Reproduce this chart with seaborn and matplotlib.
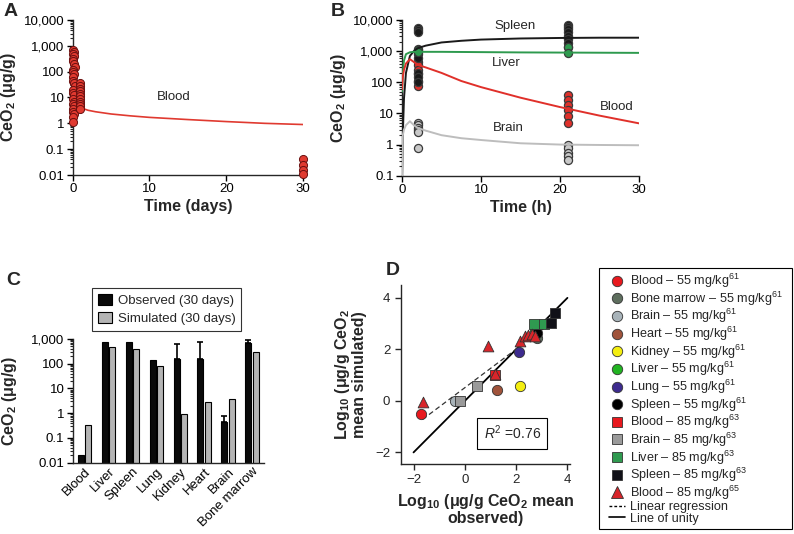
import numpy as np
import pandas as pd
import matplotlib
matplotlib.use('Agg')
import matplotlib.pyplot as plt
import seaborn as sns
from matplotlib.lines import Line2D
from matplotlib.patches import Rectangle
from matplotlib.ticker import FixedLocator, LogLocator, NullFormatter, FixedFormatter

# ---------------- Panel A data (time in days) ----------------
a_curve_t = [0, 0.1, 0.25, 0.5, 0.75, 1.0, 1.5, 2, 3, 5, 7.5, 10, 15, 20, 25, 30]
a_curve_v = [800, 200, 60, 15, 7, 4.2, 3.6, 3.2, 2.8, 2.3, 1.95, 1.7, 1.4, 1.17, 1.0, 0.9]
a_obs_t = [0.05, 0.15, 0.05, 0.2, 0.1, 0.05, 0.15, 0.25, 0.1, 0.05, 0.2, 0.1, 0.05, 0.15,
           0.25, 0.1, 0.05, 0.2, 0.1, 0.15, 0.05, 0.2, 0.1, 0.05, 0.15, 0.1, 0.05,
           1.0, 1.0, 1.0, 1.0, 1.0, 1.0, 1.0, 1.0, 1.0, 1.0, 1.0,
           30, 30, 30, 30]
a_obs_v = [700, 600, 500, 400, 300, 250, 200, 150, 120, 100, 80, 60, 45, 35,
           28, 20, 15, 12, 9, 7, 5.5, 4.5, 3.5, 2.8, 2.2, 1.8, 1.1,
           35, 28, 22, 18, 14, 11, 9, 7, 5.5, 4.5, 3.5,
           0.04, 0.025, 0.016, 0.011]

# ---------------- Panel B data (time in hours) ----------------
b_t = [0, 0.1, 0.25, 0.5, 1, 1.5, 2, 3, 5, 7.5, 10, 15, 20, 25, 30]
b_spleen = [0.1, 2, 30, 200, 700, 1000, 1250, 1500, 1900, 2150, 2350, 2550, 2650, 2700, 2700]
b_liver = [50, 200, 500, 800, 920, 950, 950, 950, 950, 940, 930, 910, 900, 890, 880]
b_blood = [60, 150, 250, 400, 550, 450, 360, 300, 200, 110, 70, 32, 16, 8.5, 4.8]
b_brain = [0.1, 2, 3, 4.2, 5.6, 4.2, 3.4, 2.8, 2.0, 1.6, 1.4, 1.1, 1.0, 0.97, 0.95]
b_obs_time = [2] * 9 + [21] * 8 + [2] * 2 + [21] * 2 + [2] * 6 + [21] * 6 + [2] * 6 + [21] * 5
b_obs_tissue = (['Spleen'] * 17 + ['Liver'] * 4 + ['Blood'] * 12 + ['Brain'] * 11)
b_obs_v = ([5500, 4800, 4200, 1200, 800, 600, 200, 150, 100,
            7000, 6000, 5000, 4000, 3000, 2400, 1800, 1400,
            1100, 950, 1400, 900,
            460, 350, 250, 180, 110, 75,
            38, 27, 19, 13, 8, 5,
            5.0, 4.2, 3.5, 3.0, 2.6, 0.75,
            1.0, 0.75, 0.55, 0.42, 0.33])

# ---------------- Panel C data ----------------
c_tissues = ['Blood', 'Liver', 'Spleen', 'Lung', 'Kidney', 'Heart', 'Brain', 'Bone marrow']
c_observed = [0.02, 760, 760, 140, 150, 160, 0.46, 690]
c_observed_err_up = [0, 0, 0, 0, 500, 600, 0.3, 200]
c_simulated = [0.32, 460, 400, 80, 0.94, 2.8, 3.6, 290]

# ---------------- Panel D data ----------------
d_labels = ['Blood – 55 mg/kg$^{61}$', 'Bone marrow – 55 mg/kg$^{61}$', 'Brain – 55 mg/kg$^{61}$',
            'Heart – 55 mg/kg$^{61}$', 'Kidney – 55 mg/kg$^{61}$', 'Liver – 55 mg/kg$^{61}$',
            'Lung – 55 mg/kg$^{61}$', 'Spleen – 55 mg/kg$^{61}$', 'Blood – 85 mg/kg$^{63}$',
            'Brain – 85 mg/kg$^{63}$', 'Liver – 85 mg/kg$^{63}$', 'Spleen – 85 mg/kg$^{63}$',
            'Blood – 85 mg/kg$^{65}$']
d_colors = ['#e8191e', '#5e6e5e', '#a8b3b9', '#a0533b', '#f4ee10', '#22b422', '#3d2b8e',
            '#000000', '#e8191e', '#9a9a9a', '#2f9a50', '#111118', '#d8252a']
d_markers = ['o'] * 8 + ['s'] * 4 + ['^']
d_obs = [[-1.7], [2.8], [-0.39], [1.24], [2.15], [2.75], [2.12], [2.8],
         [1.17], [-0.2, 0.46], [2.7, 3.09], [3.35, 3.52],
         [-1.63, 0.91, 1.17, 2.15, 2.34, 2.47, 2.6, 2.73]]
d_sim = [[-0.5], [2.45], [0.0], [0.44], [0.57], [2.75], [1.89], [2.65],
         [1.02], [0.0, 0.57], [2.97, 2.97], [3.03, 3.4],
         [-0.05, 2.12, 1.05, 2.32, 2.51, 2.54, 2.58, 2.51]]
d_regression_x = [-1.65, 3.3]
d_regression_y = [-0.72, 2.98]
d_unity = [-2, 4]
d_r2 = '0.76'

# ---------------- Style ----------------
sns.set_style('ticks')
plt.rcParams['font.family'] = ['Liberation Sans', 'DejaVu Sans']
plt.rcParams['mathtext.fontset'] = 'custom'
plt.rcParams['mathtext.rm'] = 'Liberation Sans'
plt.rcParams['mathtext.it'] = 'Liberation Sans:italic'
plt.rcParams['mathtext.bf'] = 'Liberation Sans:bold'
plt.rcParams['axes.linewidth'] = 1.0
plt.rcParams['xtick.major.size'] = 4
plt.rcParams['ytick.major.size'] = 4
plt.rcParams['ytick.minor.size'] = 2

W, H = 794, 534
fig = plt.figure(figsize=(W / 100, H / 100), dpi=100)


def px_axes(l, t, r, b):
    return fig.add_axes([l / W, 1 - b / H, (r - l) / W, (b - t) / H])


TICK_FS = 9.5
LABEL_FS = 11.5
RED = '#e03a30'


def log_axis(ax, lo, hi, labels):
    ax.set_yscale('log')
    ax.set_ylim(lo, hi)
    decs = np.arange(int(np.log10(lo)), int(np.log10(hi)) + 1)
    ax.yaxis.set_major_locator(FixedLocator([10.0 ** d for d in decs]))
    ax.yaxis.set_major_formatter(FixedFormatter(labels))
    ax.yaxis.set_minor_locator(LogLocator(base=10, subs=np.arange(2, 10), numticks=20))
    ax.yaxis.set_minor_formatter(NullFormatter())
    ax.tick_params(labelsize=TICK_FS, colors='black', width=1.0, pad=2)
    ax.tick_params(which='minor', width=0.8)
    for s in ['top', 'right']:
        ax.spines[s].set_visible(False)


# ---------------- Panel A ----------------
axA = px_axes(72.7, 20, 303, 175)
log_axis(axA, 0.01, 10000, ['0.01', '0.1', '1', '10', '100', '1,000', '10,000'])
sns.lineplot(x=a_curve_t, y=a_curve_v, ax=axA, color=RED, lw=1.2)
sns.scatterplot(x=a_obs_t, y=a_obs_v, ax=axA, color=RED, edgecolor='#6a1010', linewidth=0.7,
                s=34, zorder=5, clip_on=False)
axA.set_xlim(0, 30)
axA.set_xticks([0, 10, 20, 30])
axA.set_xlabel('Time (days)', fontsize=LABEL_FS, fontweight='bold', labelpad=3)
axA.set_ylabel('CeO$_\\mathbf{2}$ (μg/g)', fontsize=LABEL_FS, fontweight='bold')
axA.yaxis.set_label_coords((18 - 72.7) / 230.3, 0.5)
axA.text(13.2, 10, 'Blood', fontsize=TICK_FS, ha='center', va='center')

# ---------------- Panel B ----------------
axB = px_axes(402, 20, 639, 175.7)
log_axis(axB, 0.1, 10000, ['0.1', '1', '10', '100', '1,000', '10,000'])
curves = pd.DataFrame({'t': b_t * 4,
                       'v': b_spleen + b_liver + b_blood + b_brain,
                       'tissue': ['Spleen'] * len(b_t) + ['Liver'] * len(b_t) +
                                 ['Blood'] * len(b_t) + ['Brain'] * len(b_t)})
pal_line = {'Spleen': '#1a1a1a', 'Liver': '#2e9a4e', 'Blood': '#e0302a', 'Brain': '#bdbdbd'}
pal_pts = {'Spleen': '#1a1a1a', 'Liver': '#2e9a4e', 'Blood': '#e0302a', 'Brain': '#c8c8c8'}
obs = pd.DataFrame({'t': b_obs_time, 'v': b_obs_v, 'tissue': b_obs_tissue})
order_pts = ['Brain', 'Blood', 'Spleen', 'Liver']
for tis in order_pts:
    sub = obs[obs.tissue == tis]
    sns.scatterplot(data=sub, x='t', y='v', ax=axB, color=pal_pts[tis], edgecolor='#3a3a3a',
                    linewidth=0.9, s=34, zorder=3, legend=False)
sns.lineplot(data=curves, x='t', y='v', hue='tissue', palette=pal_line, ax=axB, lw=1.4,
             legend=False, zorder=4)
axB.set_xlim(0, 30)
axB.set_xticks([0, 10, 20, 30])
axB.set_xlabel('Time (h)', fontsize=LABEL_FS, fontweight='bold', labelpad=3)
axB.set_ylabel('CeO$_\\mathbf{2}$ (μg/g)', fontsize=LABEL_FS, fontweight='bold')
axB.yaxis.set_label_coords((348 - 402) / 237, 0.5)
axB.text(14.3, 6500, 'Spleen', fontsize=TICK_FS, ha='center', va='center')
axB.text(13.2, 430, 'Liver', fontsize=TICK_FS, ha='center', va='center')
axB.text(13.4, 3.3, 'Brain', fontsize=TICK_FS, ha='center', va='center')
axB.text(27.2, 16, 'Blood', fontsize=TICK_FS, ha='center', va='center')

# ---------------- Panel C ----------------
axC = px_axes(72.7, 339, 264, 462.7)
cdf = pd.DataFrame({'tissue': c_tissues * 2,
                    'value': c_observed + c_simulated,
                    'kind': ['Observed (30 days)'] * len(c_tissues) +
                            ['Simulated (30 days)'] * len(c_tissues)})
sns.barplot(data=cdf, x='tissue', y='value', hue='kind',
            palette={'Observed (30 days)': '#0a0a0a', 'Simulated (30 days)': '#b4b4b4'},
            edgecolor='black', linewidth=0.8, width=0.63, gap=0.2, ax=axC, legend=True)
log_axis(axC, 0.01, 1000, ['0.01', '0.1', '1', '10', '100', '1,000'])
obs_patches = [p for p in axC.patches if p.get_facecolor()[0] < 0.2 and p.get_height() > 0][:len(c_tissues)]
for p, v, e in zip(obs_patches, c_observed, c_observed_err_up):
    if e > 0:
        axC.errorbar(p.get_x() + p.get_width() / 2, v, yerr=[[0], [e]], color='black',
                     lw=1.2, capsize=2.5, capthick=1.2, zorder=5)
axC.set_xlim(-0.5, 7.5)
axC.set_xlabel('')
axC.set_ylabel('CeO$_\\mathbf{2}$ (μg/g)', fontsize=LABEL_FS, fontweight='bold')
axC.yaxis.set_label_coords((19 - 72.7) / 191.3, 0.5)
axC.tick_params(axis='x', length=0, pad=2)
plt.setp(axC.get_xticklabels(), rotation=45, ha='right', rotation_mode='anchor', fontsize=TICK_FS)
h, l = axC.get_legend_handles_labels()
axC.get_legend().remove()
legC = fig.legend(h, l, loc='upper left', bbox_to_anchor=(92 / W, 1 - 288 / H),
                  fontsize=TICK_FS, frameon=True, fancybox=False, edgecolor='black',
                  handlelength=1.1, handleheight=0.9, handletextpad=0.4, labelspacing=0.4,
                  borderpad=0.45, borderaxespad=0)
legC.get_frame().set_linewidth(0.8)

# ---------------- Panel D ----------------
axD = px_axes(400.7, 285, 570, 464)
axD.plot(d_unity, d_unity, color='black', lw=1.3, zorder=2)
sns.lineplot(x=d_regression_x, y=d_regression_y, ax=axD, color='#333333', lw=0.9,
             linestyle=(0, (4, 2.5)), zorder=2)
for lab, col, mk, xs, ys in zip(d_labels, d_colors, d_markers, d_obs, d_sim):
    sns.scatterplot(x=xs, y=ys, ax=axD, color=col, marker=mk, edgecolor='#333333',
                    linewidth=0.6, s=55 if mk != '^' else 60, zorder=4, legend=False)
axD.set_xlim(-2.5, 4.1)
axD.set_ylim(-2.45, 4.5)
axD.set_xticks([-2, 0, 2, 4])
axD.set_yticks([-2, 0, 2, 4])
axD.set_xticklabels(['−2', '0', '2', '4'])
axD.set_yticklabels(['−2', '0', '2', '4'])
axD.tick_params(labelsize=TICK_FS, width=1.0)
for s in ['top', 'right']:
    axD.spines[s].set_visible(False)
axD.set_xlabel('Log$_\\mathbf{10}$ (μg/g CeO$_\\mathbf{2}$ mean\nobserved)', fontsize=LABEL_FS,
               fontweight='bold', labelpad=4, linespacing=1.0)
axD.set_ylabel('Log$_\\mathbf{10}$ (μg/g CeO$_\\mathbf{2}$\nmean simulated)', fontsize=LABEL_FS,
               fontweight='bold', labelpad=6, linespacing=1.0)
axD.text(1.85, -1.25, '$R^2$ =' + d_r2, fontsize=TICK_FS + 0.5, ha='center', va='center',
         bbox=dict(boxstyle='square,pad=0.45', fc='white', ec='black', lw=0.8))

handles = [Line2D([], [], linestyle='none', marker=mk, markersize=7.5 if mk != '^' else 8,
                  markerfacecolor=col, markeredgecolor='#333333', markeredgewidth=0.6)
           for col, mk in zip(d_colors, d_markers)]
handles += [Line2D([], [], color='black', lw=1.0, linestyle=(0, (2, 1.5))),
            Line2D([], [], color='black', lw=1.2)]
labels = d_labels + ['Linear regression', 'Line of unity']
fig.patches.append(Rectangle((599 / W, 1 - 529 / H), (792 - 599) / W, (529 - 268) / H,
                             transform=fig.transFigure, fill=False, edgecolor='black', lw=0.8))
legD = fig.legend(handles, labels, loc='upper left', bbox_to_anchor=(609 / W, 1 - 272 / H),
                  fontsize=9.1, frameon=False, handlelength=1.3, handletextpad=0.4,
                  labelspacing=-0.045, borderpad=0, borderaxespad=0)

# ---------------- Panel letters ----------------
for letter, x, y in [('A', 4, 3), ('B', 331, 3), ('C', 6, 272), ('D', 386, 262)]:
    fig.text(x / W, 1 - y / H, letter, fontsize=14, fontweight='bold', va='top', ha='left')

fig.savefig('out.png', dpi=100)
